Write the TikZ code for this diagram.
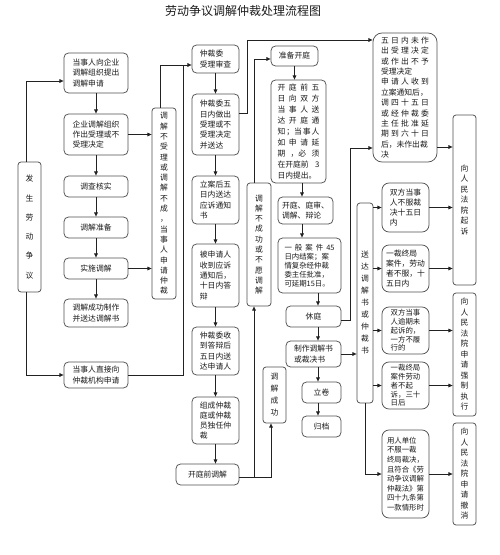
\documentclass[tikz,border=0pt]{standalone}
\usepackage{fontspec}
\setmainfont{Noto Sans CJK SC}
\usetikzlibrary{arrows.meta}
\definecolor{bcol}{HTML}{505050}
\definecolor{lcol}{HTML}{222222}
\definecolor{tcol}{HTML}{1A1A1A}
\newcommand\mybox[7]{\node[#6, minimum width={(#4-#2)*1pt}, minimum height={(#5-#3)*1pt}] (#1) at ({(#2+#4)/2},{(#3+#5)/2}) {#7};}
\newcommand\fv[1]{\fontsize{7.8}{#1}\selectfont}
\newcommand\fw[1]{\fontsize{7.4}{#1}\selectfont}
\newcommand\spl[2]{\makebox[#1pt][s]{#2}}
\tikzset{
  box/.style={draw=bcol, line width=0.75pt, rounded corners=4.5pt, inner sep=0pt, align=left, text=tcol, font=\fv{10.3}},
  vbox/.style={box, align=center, rounded corners=3pt},
  rbox/.style={box, rounded corners=7pt},
  arr/.style={draw=lcol, line width=0.7pt, -{Triangle[length=4.2pt,width=3.6pt]}},
  ln/.style={draw=lcol, line width=0.7pt}
}
\begin{document}
\begin{tikzpicture}[x=1pt,y=-1pt]
\fill[white] (0,0) rectangle (500,555);
\useasboundingbox (0,0) rectangle (500,555);
\node[font=\fontsize{12}{14}\selectfont, text=tcol] (title) at (243,11) {劳动争议调解仲裁处理流程图};

% column 1 and 2
\mybox{a}{18}{162}{41}{292}{vbox, font=\fv{19.3}}{发\\生\\劳\\动\\争\\议}
\mybox{n1}{64}{53}{128}{93}{box}{当事人向企业\\调解组织提出\\调解申请}
\mybox{n2}{64}{114}{128}{155}{box}{企业调解组织\\作出受理或不\\受理决定}
\mybox{n3}{64}{176}{128}{197}{box}{调查核实}
\mybox{n4}{64}{217}{128}{238}{box}{调解准备}
\mybox{n5}{64}{258}{128}{279}{box}{实施调解}
\mybox{n6}{64}{299}{128}{327}{box}{调解成功制作\\并送达调解书}
\mybox{n7}{64}{362}{128}{388}{box}{当事人直接向\\仲裁机构申请}
\mybox{b}{152}{108}{176}{299}{vbox, font=\fv{10.3}}{调\\解\\不\\受\\理\\或\\调\\解\\不\\成\\，\\当\\事\\人\\申\\请\\仲\\裁}

% column 4
\mybox{c1}{192}{45}{239}{73}{box}{仲裁委\\受理审查}
\mybox{c2}{192}{94}{239}{155}{box}{仲裁委五\\日内做出\\受理或不\\受理决定\\并送达}
\mybox{c3}{192}{176}{239}{224}{box}{立案后五\\日内送达\\应诉通知\\书}
\mybox{c4}{192}{244}{239}{307}{box}{被申请人\\收到应诉\\通知后，\\十日内答\\辩}
\mybox{c5}{192}{327}{239}{375}{box}{仲裁委收\\到答辩后\\五日内送\\达申请人}
\mybox{c6}{192}{397}{239}{444}{box}{组成仲裁\\庭或仲裁\\员独任仲\\裁}
\mybox{c7}{176}{464}{239}{485}{box}{开庭前调解}
\mybox{d}{247}{183}{271}{306}{vbox, font=\fv{10.3}}{调\\解\\不\\成\\功\\或\\不\\愿\\调\\解}
\mybox{e}{263}{367}{286}{423}{vbox, font=\fv{12}}{调\\解\\成\\功}

% column 5
\mybox{g1}{271}{46}{318}{66}{box}{准备开庭}
\mybox{g2}{271}{80}{326}{183}{box, font=\fv{11}}{\spl{42}{开\hfil 庭\hfil 前\hfil 五}\\\spl{42}{日\hfil 向\hfil 双\hfil 方}\\\spl{42}{当\hfil 事\hfil 人\hfil 送}\\\spl{42}{达\hfil 开\hfil 庭\hfil 通}\\\spl{42}{知\hfil ；当\hfil 事\hfil 人}\\\spl{42}{如\hfil 申\hfil 请\hfil 延}\\\spl{42}{期\hfil ，必\hfil 须}\\\spl{42}{在开庭前\hfil 3}\\日内提出。}
\mybox{g3}{278}{197}{333}{224}{box}{开庭、庭审、\\调解、辩论}
\mybox{g4}{278}{238}{341}{293}{box, font=\fw{9}}{\spl{50}{一\hfil 般\hfil 案\hfil 件\hfil 45}\\日内结案；案\\情复杂经仲裁\\委主任批准，\\可延期15日。}
\mybox{g5}{286}{306}{341}{327}{box}{休庭}
\mybox{g6}{286}{341}{341}{367}{box}{制作调解书\\或裁决书}
\mybox{g7}{302}{382}{341}{403}{box}{立卷}
\mybox{g8}{302}{416}{341}{437}{box}{归档}
\mybox{h}{357}{203}{373}{403}{vbox, font=\fv{12}}{送\\达\\调\\解\\书\\或\\仲\\裁\\书}

% column 6
\mybox{f}{373}{33}{437}{162}{rbox, rounded corners=9pt, font=\fv{10.4}}{\spl{48}{五\hfil 日\hfil 内\hfil 未\hfil 作}\\\spl{48}{出\hfil 受\hfil 理\hfil 决\hfil 定}\\\spl{48}{或\hfil 作\hfil 出\hfil 不\hfil 予}\\受理决定\\\spl{48}{申\hfil 请\hfil 人\hfil 收\hfil 到}\\立案通知后，\\\spl{48}{调\hfil 四\hfil 十\hfil 五\hfil 日}\\\spl{48}{或\hfil 经\hfil 仲\hfil 裁\hfil 委}\\\spl{48}{主\hfil 任\hfil 批\hfil 准\hfil 延}\\\spl{48}{期\hfil 到\hfil 六\hfil 十\hfil 日}\\后，未作出裁\\决}
\mybox{i1}{382}{183}{429}{232}{rbox, font=\fv{10}}{双方当事\\人不服裁\\决十五日\\内}
\mybox{i2}{382}{245}{429}{292}{rbox, font=\fv{10}}{一裁终局\\案件，劳动\\者不服，十\\五日内}
\mybox{i3}{382}{307}{429}{354}{rbox, font=\fw{8.8}}{双方当事\\人逾期未\\起诉的，\\一方不履\\行的}
\mybox{i4}{382}{362}{429}{409}{rbox, font=\fw{8.8}}{一裁终局\\案件劳动\\者不起\\诉，三十\\日后}
\mybox{i5}{382}{430}{429}{518}{rbox, font=\fw{9.6}}{用人单位\\不服一裁\\终局裁决，\\且符合《劳\\动争议调解\\仲裁法》第\\四十九条第\\一款情形时}

% column 7
\mybox{j1}{453}{115}{476}{285}{vbox, font=\fv{10.5}}{向\\人\\民\\法\\院\\起\\诉}
\mybox{j2}{453}{293}{476}{416}{vbox, font=\fv{10.5}}{向\\人\\民\\法\\院\\申\\请\\强\\制\\执\\行}
\mybox{j3}{453}{423}{476}{525}{vbox, font=\fv{10.5}}{向\\人\\民\\法\\院\\申\\请\\撤\\消}

% helper coordinates
\coordinate (m1) at (183,65);
\coordinate (m2) at (247,40);
\coordinate (m3) at (350,148);
\coordinate (xa) at (302,0);
\coordinate (xb) at (318,0);

% connectors column 1-2
\draw[arr] ([xshift=-3pt]a.north) |- ([yshift=-8pt]n1.west);
\draw[arr] ([xshift=-3pt]a.south) |- (n7.west);
\draw[arr] (n1.south) -- (n2.north);
\draw[arr] (n2.south) -- (n3.north);
\draw[arr] (n3.south) -- (n4.north);
\draw[arr] (n4.south) -- (n5.north);
\draw[arr] (n5.south) -- (n6.north);
\draw[arr] (n2.east) -- (n2.east -| b.west);
\draw[arr] (n5.east) -- (n5.east -| b.west);
\draw[arr] ([xshift=-4pt]b.north) |- ([yshift=-6pt]c1.west);
\draw[ln] (n7.east) -| (m1);

% column 4
\draw[arr] (c1.south) -- (c2.north);
\draw[arr] (c2.south) -- (c3.north);
\draw[arr] (c3.south) -- (c4.north);
\draw[arr] (c4.south) -- (c5.north);
\draw[arr] (c5.south) -- (c6.north);
\draw[arr] (c6.south) -- (c6.south |- c7.north);
\draw[arr] ([yshift=11pt]c2.east) -| (m2) -- (m2 -| f.west);
\draw[arr] ([yshift=-2.5pt]c7.east) -| ([xshift=-5pt]d.south);
\draw[arr] ([yshift=-2.5pt]c7.east) -| ([xshift=-3.5pt]e.south);
\draw[arr] ([xshift=-5pt]d.north) |- ([yshift=-3pt]g1.west);

% column 5
\draw[arr] (g1.south) -- (g1.south |- g2.north);
\draw[arr] (g2.south -| xa) -- (g3.north -| xa);
\draw[arr] (g3.south -| xa) -- (g4.north -| xa);
\draw[arr] (g4.south -| xb) -- (g5.north -| xb);
\draw[arr] (g5.south -| xb) -- (g6.north -| xb);
\draw[arr] (g6.south -| xb) -- (g7.north -| xb);
\draw[arr] (g7.south -| xb) -- (g8.north -| xb);
\draw[arr] ([yshift=-3.5pt]g5.east) -| (m3) -- (m3 -| f.west);
\draw[arr] (g6.east) -- (g6.east -| h.west);

% delivery to column 6
\draw[arr] (h.east |- i1.west) -- (i1.west);
\draw[arr] (h.east |- i2.west) -- (i2.west);
\draw[arr] (h.east |- i3.west) -- (i3.west);
\draw[arr] (h.east |- i4.west) -- (i4.west);
\draw[arr] (h.south) |- (i5.west);

% column 6 to 7
\draw[arr] ([yshift=-49.5pt]f.east) -- ([yshift=-49.5pt]f.east -| j1.west);
\draw[arr] (i1.east) -- (i1.east -| j1.west);
\draw[arr] (i2.east) -- (i2.east -| j1.west);
\draw[arr] (i3.east) -- (i3.east -| j2.west);
\draw[arr] (i4.east) -- (i4.east -| j2.west);
\draw[arr] (i5.east) -- (i5.east -| j3.west);
\end{tikzpicture}
\end{document}
